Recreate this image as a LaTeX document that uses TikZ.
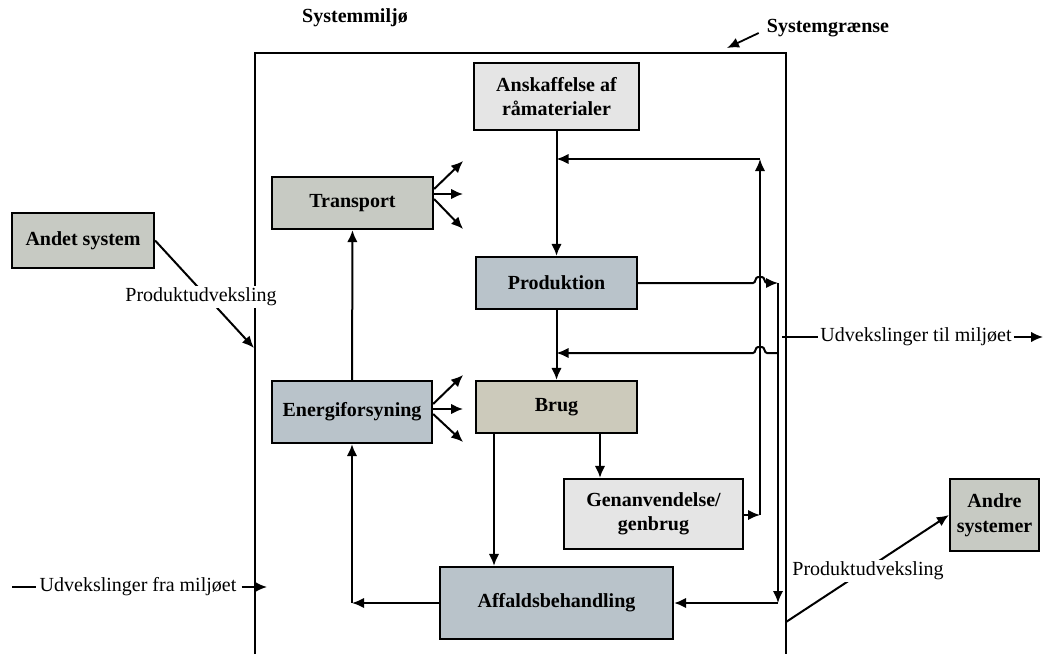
\documentclass[tikz,border=0pt]{standalone}
\usepackage{fontspec}
\setmainfont{Liberation Serif}
\usetikzlibrary{arrows.meta,calc}
\definecolor{lightbox}{HTML}{E5E5E5}
\definecolor{sagebox}{HTML}{C7CAC3}
\definecolor{bluebox}{HTML}{B9C3CA}
\definecolor{tanbox}{HTML}{CCCABB}
\begin{document}
\begin{tikzpicture}[x=1pt,y=-1pt,
  font=\fontsize{20}{24.5}\selectfont,
  box/.style={draw=black, line width=2.2pt, align=center, inner sep=0pt,
    font=\fontsize{20}{24.5}\selectfont\bfseries},
  conn/.style={line width=2pt, black},
  tip/.style={-{Latex[length=12pt,width=10.5pt]}},
  boundary/.style={line width=1.4pt, black},
  lbl/.style={fill=white, inner sep=2pt},
  plain/.style={inner sep=0pt}
]
\useasboundingbox (0,0) rectangle (1046,654);

% system boundary (open at the bottom)
\draw[boundary] (255,654) -- (255,53) -- (786,53) -- (786,654);

% headings
\node[plain, font=\fontsize{20}{24.5}\selectfont\bfseries] (miljo) at (355,18) {Systemmiljø};
\node[plain, font=\fontsize{20}{24.5}\selectfont\bfseries] (graense) at (828,28) {Systemgrænse};
\coordinate (gr) at (727,48);
\draw[conn, line width=1.8pt, tip] ($(graense.west)+(-8,5)$) -- (gr);

% process boxes
\node[box, fill=lightbox, minimum width=165pt, minimum height=67pt] (ansk) at (556.5,96.5) {Anskaffelse af\\råmaterialer};
\node[box, fill=sagebox, minimum width=161pt, minimum height=52pt] (transport) at (352.5,203) {Transport};
\node[box, fill=bluebox, minimum width=161pt, minimum height=52pt] (prod) at (556.5,283) {Produktion};
\node[box, fill=bluebox, minimum width=160pt, minimum height=62pt] (energi) at (352,412) {Energiforsyning};
\node[box, fill=tanbox, minimum width=161pt, minimum height=52pt] (brug) at (556.5,407) {Brug};
\node[box, fill=lightbox, minimum width=179pt, minimum height=70pt] (gen) at (653.5,514) {Genanvendelse/\\genbrug};
\node[box, fill=bluebox, minimum width=233pt, minimum height=72pt] (affald) at (556.5,603) {Affaldsbehandling};
\node[box, fill=sagebox, minimum width=142pt, minimum height=55pt] (andet) at (83,240.5) {Andet system};
\node[box, fill=sagebox, minimum width=89pt, minimum height=72pt] (andre) at (994.5,515) {Andre\\systemer};

% main flow
\draw[conn, tip] (ansk) -- (prod);
\draw[conn, tip] (prod) -- (brug);
\draw[conn, tip] (brug.south -| 600,0) -- (gen.north -| 600,0);
\draw[conn, tip] (brug.south -| 494,0) -- (affald.north -| 494,0);
\draw[conn, tip] (energi) -- (transport);

% recycling loop back to production
\coordinate (rA) at (760,515);
\coordinate (rB) at (760,159);
\draw[conn, tip] (gen.east |- rA) -- (rA);
\draw[conn, tip] (rA) -- (rB);
\draw[conn, tip] (rB) -- (rB -| ansk.south);

% production outputs to the collecting line and to waste treatment
\coordinate (rC) at (778,283);
\coordinate (rD) at (778,603);
\coordinate (rE) at (778,353);
\draw[conn, tip] (prod.east) -- (753,283)
  .. controls (756,283) and (755,277) .. (758,277) -- (762,277)
  .. controls (765,277) and (764,283) .. (767,283) -- (rC);
\draw[conn, tip] (rC) -- (rD);
\draw[conn, tip] (rD) -- (affald.east);
\draw[conn, tip] (rE) -- (767,353)
  .. controls (764,353) and (765,347) .. (762,347) -- (758,347)
  .. controls (755,347) and (756,353) .. (753,353) -- (rE -| prod.south);

% waste treatment back to energy supply
\coordinate (lA) at (energi.south |- affald.west);
\draw[conn, tip] (affald.west) -- (lA);
\draw[conn, tip] (lA) -- (energi.south);

% fans of outputs from transport and energy supply
\coordinate (tf) at (transport.east |- 0,194);
\draw[conn, tip] ($(tf)+(0,-5)$) -- ++(29,-28);
\draw[conn, tip] (tf) -- ++(29,0);
\draw[conn, tip] ($(tf)+(0,5)$) -- ++(29,30);
\coordinate (ef) at (energi.east |- 0,409);
\draw[conn, tip] ($(ef)+(0,-5)$) -- ++(30,-29);
\draw[conn, tip] (ef) -- ++(30,0);
\draw[conn, tip] ($(ef)+(0,5)$) -- ++(30,28);

% product exchange with other systems
\coordinate (bL) at (254,348);
\draw[conn, tip] (andet.east) -- (bL);
\node[lbl] (pL) at (201,297) {Produktudveksling};
\coordinate (bR) at (786,622);
\draw[conn, tip] (bR) -- (andre.west);
\node[lbl] (pR) at (868,571) {Produktudveksling};

% exchanges with the environment
\coordinate (uT) at (782,337);
\coordinate (uTe) at (1043,337);
\node[plain] (utxt) at (916,337) {Udvekslinger til miljøet};
\draw[conn, line width=1.6pt] (uT) -- ([xshift=-2pt]utxt.west);
\draw[conn, line width=1.6pt, tip] ([xshift=2pt]utxt.east) -- (uTe);

\coordinate (uF) at (12,587);
\coordinate (uFe) at (267,587);
\node[plain] (ftxt) at (138,587) {Udvekslinger fra miljøet};
\draw[conn, line width=1.6pt] (uF) -- ([xshift=-3pt]ftxt.west);
\draw[conn, line width=1.6pt, tip] ([xshift=5pt]ftxt.east) -- (uFe);
\end{tikzpicture}
\end{document}
